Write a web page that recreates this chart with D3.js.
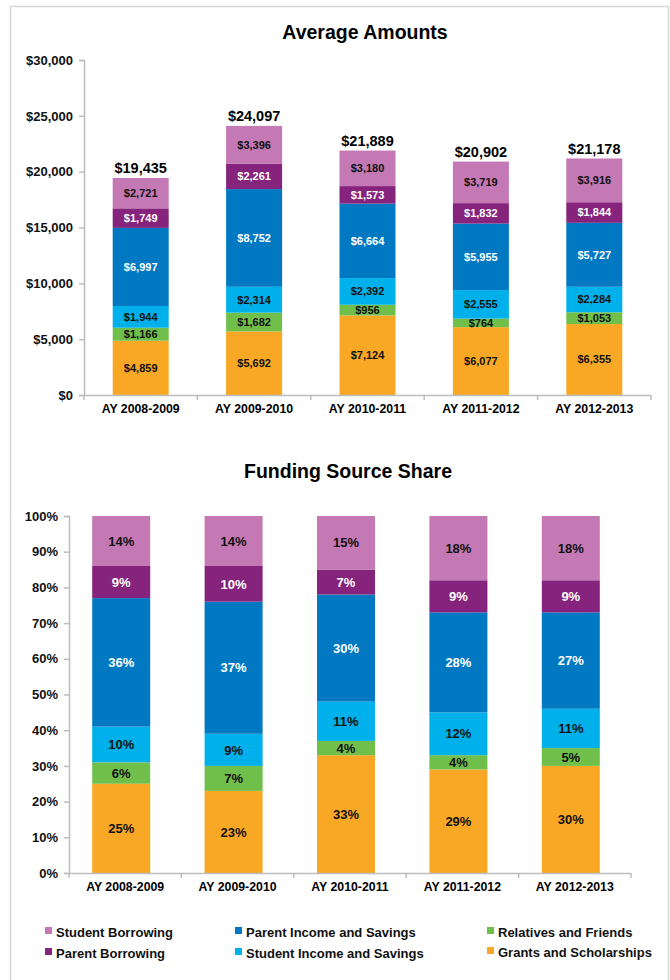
<!DOCTYPE html>
<html>
<head>
<meta charset="utf-8">
<script src="https://cdn.jsdelivr.net/npm/d3@7"></script>
<style>
  body { margin: 0; background: #fff; }
  svg { display: block; font-family: "Liberation Sans", Arial, sans-serif; font-weight: bold; }
</style>
</head>
<body>
<svg id="chart" width="670" height="980"></svg>
<script>
// categories
var years = ['AY 2008-2009', 'AY 2009-2010', 'AY 2010-2011', 'AY 2011-2012', 'AY 2012-2013']

// average amounts (dollars), bottom to top
var grants = [4859, 5692, 7124, 6077, 6355]
var relatives = [1166, 1682, 956, 764, 1053]
var studentIncome = [1944, 2314, 2392, 2555, 2284]
var parentIncome = [6997, 8752, 6664, 5955, 5727]
var parentBorrowing = [1749, 2261, 1573, 1832, 1844]
var studentBorrowing = [2721, 3396, 3180, 3719, 3916]
var totals = [19435, 24097, 21889, 20902, 21178]

// funding source share (percent)
var grantsPct = [25, 23, 33, 29, 30]
var relativesPct = [6, 7, 4, 4, 5]
var studentIncomePct = [10, 9, 11, 12, 11]
var parentIncomePct = [36, 37, 30, 28, 27]
var parentBorrowingPct = [9, 10, 7, 9, 9]
var studentBorrowingPct = [14, 14, 15, 18, 18]

// axis ticks
var dollarTicks = [0, 5000, 10000, 15000, 20000, 25000, 30000]
var pctTicks = [0, 10, 20, 30, 40, 50, 60, 70, 80, 90, 100]

var seriesKeys = ['grants', 'relatives', 'studentIncome', 'parentIncome', 'parentBorrowing', 'studentBorrowing']
var seriesNames = {
  grants: 'Grants and Scholarships',
  relatives: 'Relatives and Friends',
  studentIncome: 'Student Income and Savings',
  parentIncome: 'Parent Income and Savings',
  parentBorrowing: 'Parent Borrowing',
  studentBorrowing: 'Student Borrowing'
}
var colors = {
  grants: '#f9a825',
  relatives: '#71bf4b',
  studentIncome: '#00b0ea',
  parentIncome: '#0079c2',
  parentBorrowing: '#85237d',
  studentBorrowing: '#c479b4'
}
var textColors = {
  grants: '#111', relatives: '#111', studentIncome: '#111',
  parentIncome: '#fff', parentBorrowing: '#fff', studentBorrowing: '#111'
}

var dollarRows = years.map((y, i) => ({
  year: y, grants: grants[i], relatives: relatives[i], studentIncome: studentIncome[i],
  parentIncome: parentIncome[i], parentBorrowing: parentBorrowing[i], studentBorrowing: studentBorrowing[i]
}))
var pctRows = years.map((y, i) => ({
  year: y, grants: grantsPct[i], relatives: relativesPct[i], studentIncome: studentIncomePct[i],
  parentIncome: parentIncomePct[i], parentBorrowing: parentBorrowingPct[i], studentBorrowing: studentBorrowingPct[i]
}))

var svg = d3.select('#chart')
var axisColor = '#bdbdbd'

// outer frame
svg.append('rect')
  .attr('x', 10.5).attr('y', 6.5)
  .attr('width', 658).attr('height', 990)
  .attr('fill', 'none')
  .attr('stroke', '#d6d6d6')
  .attr('stroke-width', 1.5)

function drawChart(opts) {
  var g = svg.append('g')
  var x = d3.scaleBand().domain(years).range([opts.x0, opts.x1]).paddingInner(opts.pad).paddingOuter(opts.pad / 2)
  var y = d3.scaleLinear().domain([0, opts.max]).range([opts.yBottom, opts.yTop])
  var shift = opts.barShift || 0

  g.append('text')
    .attr('x', opts.titleX).attr('y', opts.titleY)
    .attr('text-anchor', 'middle')
    .style('font-size', '19.5px')
    .text(opts.title)

  // y axis
  var yAxis = g.append('g')
    .attr('transform', 'translate(' + opts.x0 + ',0)')
    .call(d3.axisLeft(y).tickValues(opts.ticks).tickSize(5).tickPadding(6).tickFormat(opts.tickFormat))
  yAxis.select('.domain').attr('stroke', axisColor).attr('stroke-width', 1.5)
  yAxis.selectAll('.tick line').attr('stroke', axisColor).attr('stroke-width', 1.5)
  yAxis.selectAll('.tick text')
    .attr('fill', '#111')
    .style('font-size', '13px')
    .style('font-family', '"Liberation Sans", Arial, sans-serif')
    .style('font-weight', 'bold')

  // stacked bars
  var stacked = d3.stack().keys(seriesKeys)(opts.rows)
  var layers = g.selectAll('.layer')
    .data(stacked)
    .enter()
    .append('g')
      .classed('layer', true)

  layers.selectAll('rect')
    .data(d => d.map(p => ({ key: d.key, p: p })))
    .enter()
    .append('rect')
      .attr('x', d => x(d.p.data.year) + (x.bandwidth() - opts.barW) / 2 + shift)
      .attr('y', d => y(d.p[1]))
      .attr('width', opts.barW)
      .attr('height', d => y(d.p[0]) - y(d.p[1]))
      .attr('fill', d => colors[d.key])

  layers.selectAll('text')
    .data(d => d.map(p => ({ key: d.key, p: p })))
    .enter()
    .append('text')
      .attr('x', d => x(d.p.data.year) + x.bandwidth() / 2 + shift)
      .attr('y', d => (y(d.p[0]) + y(d.p[1])) / 2)
      .attr('dy', '0.36em')
      .attr('text-anchor', 'middle')
      .attr('fill', d => textColors[d.key])
      .style('font-size', opts.labelSize)
      .text(d => opts.labelFormat(d.p[1] - d.p[0]))

  // x axis
  g.append('line')
    .attr('x1', opts.x0).attr('x2', opts.x1)
    .attr('y1', opts.yBottom + 0.5).attr('y2', opts.yBottom + 0.5)
    .attr('stroke', axisColor).attr('stroke-width', 1.5)
  var bounds = years.map(d => x(d) - x.step() * x.paddingInner() / 2).concat([opts.x1])
  g.selectAll('.xtick')
    .data(bounds)
    .enter()
    .append('line')
      .attr('x1', d => d).attr('x2', d => d)
      .attr('y1', opts.yBottom).attr('y2', opts.yBottom + 5)
      .attr('stroke', axisColor).attr('stroke-width', 1.5)
  g.selectAll('.xlabel')
    .data(years)
    .enter()
    .append('text')
      .attr('x', d => x(d) + x.bandwidth() / 2)
      .attr('y', opts.yBottom + 18)
      .attr('text-anchor', 'middle')
      .style('font-size', '12.3px')
      .text(d => d)

  return { x: x, y: y, g: g }
}

var fmtDollar = d3.format('$,')

var amountsChart = drawChart({
  title: 'Average Amounts', titleX: 365, titleY: 39,
  x0: 84, x1: 651, pad: 0.505, barW: 56,
  yTop: 60, yBottom: 395, max: 30000,
  ticks: dollarTicks, tickFormat: fmtDollar,
  rows: dollarRows, labelSize: '11px', labelFormat: fmtDollar
})

// totals above the top chart bars
amountsChart.g.selectAll('.total')
  .data(totals)
  .enter()
  .append('text')
    .attr('x', (d, i) => amountsChart.x(years[i]) + amountsChart.x.bandwidth() / 2)
    .attr('y', (d, i) => amountsChart.y(d3.sum(seriesKeys, k => dollarRows[i][k])) - 5)
    .attr('text-anchor', 'middle')
    .style('font-size', '14.5px')
    .text(d => fmtDollar(d))

drawChart({
  title: 'Funding Source Share', titleX: 348, titleY: 478,
  x0: 69, x1: 631, pad: 0.485, barW: 58, barShift: -4,
  yTop: 516, yBottom: 873, max: 100,
  ticks: pctTicks, tickFormat: d => d + '%',
  rows: pctRows, labelSize: '13px', labelFormat: d => Math.round(d) + '%'
})

// legend
var legendItems = [
  { key: 'studentBorrowing', x: 45, y: 932 },
  { key: 'parentBorrowing', x: 45, y: 953 },
  { key: 'parentIncome', x: 235, y: 932 },
  { key: 'studentIncome', x: 235, y: 953 },
  { key: 'relatives', x: 487, y: 932 },
  { key: 'grants', x: 487, y: 952 }
]
var legend = svg.selectAll('.legend')
  .data(legendItems)
  .enter()
  .append('g')
    .classed('legend', true)
    .attr('transform', d => 'translate(' + d.x + ',' + d.y + ')')
legend.append('rect')
  .attr('x', 0).attr('y', -5)
  .attr('width', 7).attr('height', 7)
  .attr('fill', d => colors[d.key])
legend.append('text')
  .attr('x', 11).attr('y', 0)
  .attr('dy', '0.36em')
  .style('font-size', '13px')
  .attr('fill', '#111')
  .text(d => seriesNames[d.key])
</script>
</body>
</html>
